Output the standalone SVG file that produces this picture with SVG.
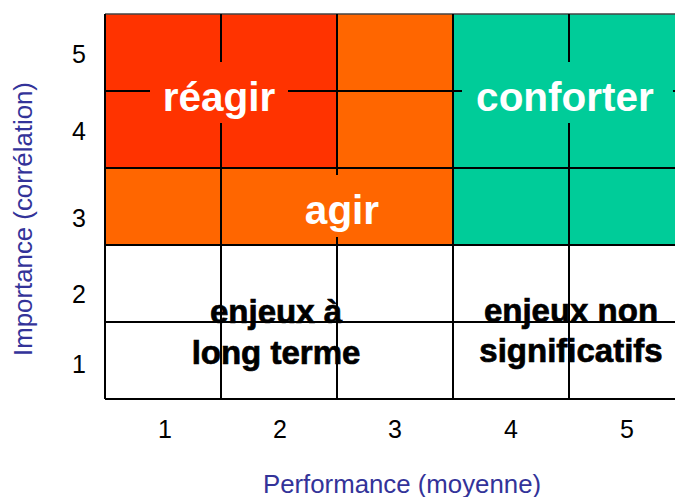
<svg xmlns="http://www.w3.org/2000/svg" width="675" height="497" viewBox="0 0 675 497">
<style>
.grid{stroke:#000;stroke-width:2;fill:none}
.big{font-family:"Liberation Sans",Arial,sans-serif;font-weight:bold;font-size:40.5px;fill:#fff;text-anchor:middle}
.zone{font-family:"Liberation Sans",Arial,sans-serif;font-weight:bold;font-size:33px;fill:#000;stroke:#000;stroke-width:0.7;text-anchor:middle}
.num{font-family:"Liberation Sans",Arial,sans-serif;font-size:25px;fill:#000;text-anchor:middle}
.axis{font-family:"Liberation Sans",Arial,sans-serif;font-size:25.8px;fill:#333399;text-anchor:middle}
</style>
<rect width="675" height="497" fill="#fff"/>
<g id="cells">
<rect x="105" y="14" width="232" height="154" fill="#FF3300"/>
<rect x="337" y="14" width="116" height="154" fill="#FF6600"/>
<rect x="105" y="168" width="348" height="77" fill="#FF6600"/>
<rect x="453" y="14" width="222" height="231" fill="#00CC99"/>
</g>
<g id="gridlines" class="grid">
<line x1="105" y1="14" x2="675" y2="14" stroke="#444" stroke-width="1.5"/>
<line x1="105" y1="91" x2="675" y2="91"/>
<line x1="105" y1="168" x2="675" y2="168"/>
<line x1="105" y1="245" x2="675" y2="245"/>
<line x1="105" y1="322" x2="675" y2="322"/>
<line x1="105" y1="399" x2="675" y2="399"/>
<line x1="105" y1="14" x2="105" y2="399"/>
<line x1="221" y1="14" x2="221" y2="399"/>
<line x1="337" y1="14" x2="337" y2="399"/>
<line x1="453" y1="14" x2="453" y2="399"/>
<line x1="569" y1="14" x2="569" y2="399"/>
</g>
<g id="reagir">
<rect x="150" y="62" width="138" height="61" fill="#FF3300"/>
<text class="big" x="219" y="111">réagir</text>
</g>
<g id="conforter">
<rect x="462" y="62" width="211" height="61" fill="#00CC99"/>
<text class="big" x="565" y="111">conforter</text>
</g>
<g id="agir">
<rect x="298" y="175" width="88" height="62" fill="#FF6600"/>
<text class="big" x="342" y="224">agir</text>
</g>
<g id="long-terme">
<text class="zone" x="276" y="323">enjeux à</text>
<text class="zone" x="276" y="364">long terme</text>
</g>
<g id="non-significatifs">
<text class="zone" x="571" y="322">enjeux non</text>
<text class="zone" x="571" y="362">significatifs</text>
</g>
<g id="y-ticks">
<text class="num" x="79" y="63">5</text>
<text class="num" x="79" y="140">4</text>
<text class="num" x="79" y="227">3</text>
<text class="num" x="79" y="303">2</text>
<text class="num" x="79" y="373">1</text>
</g>
<g id="x-ticks">
<text class="num" x="165" y="438">1</text>
<text class="num" x="280" y="438">2</text>
<text class="num" x="395" y="438">3</text>
<text class="num" x="511" y="438">4</text>
<text class="num" x="627" y="438">5</text>
</g>
<g id="axis-titles">
<text class="axis" x="402" y="493">Performance (moyenne)</text>
<text class="axis" transform="translate(32,219) rotate(-90)" x="0" y="0">Importance (corrélation)</text>
</g>
</svg>
